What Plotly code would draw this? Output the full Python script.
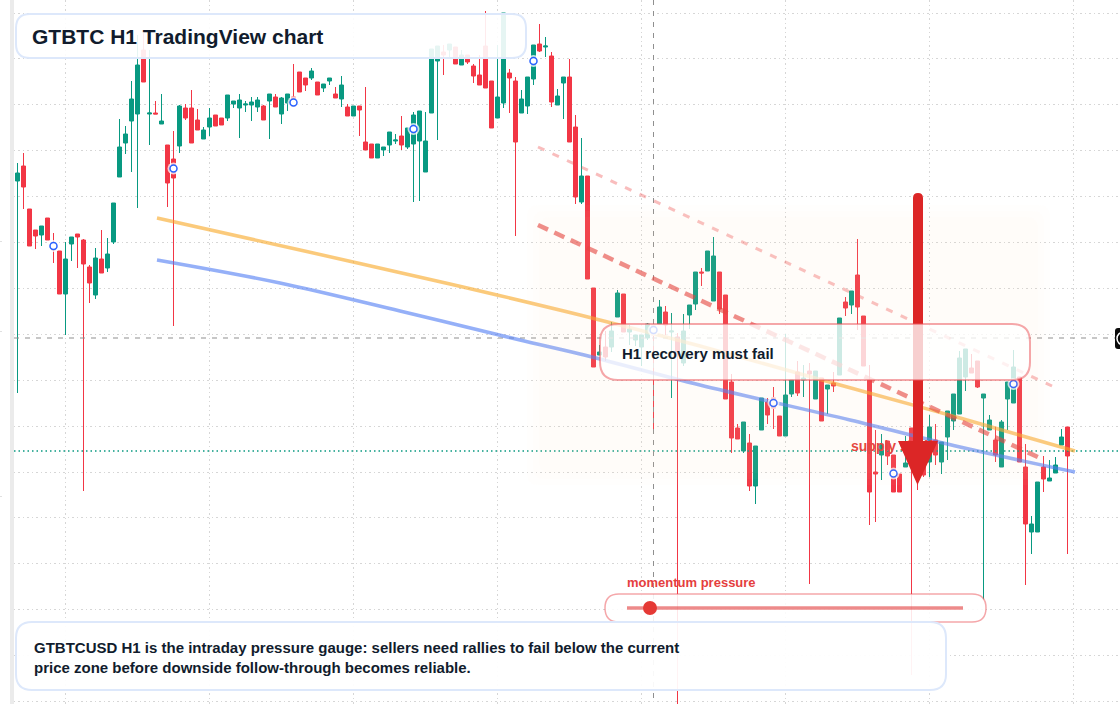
import plotly.graph_objects as go

W, H = 1120, 704

# candle readings, levels measured from the top of the chart
body_top = [
    173, 166, 209, 230, 226, 218, 243, 251, 259, 237,
    234, 240, 267, 258, 259, 254, 203, 147, 134, 99,
    65, 50, 113, 113, 121, 145, 159, 106, 108, 108,
    120, 130, 118, 115, 118, 95, 101, 100, 104, 102,
    100, 106, 94, 97, 98, 94, 97, 72, 78, 71,
    82, 84, 78, 94, 85, 107, 106, 106, 142, 144,
    144, 147, 132, 140, 136, 128, 115, 111, 141, 49,
    46, 52, 44, 47, 55, 55, 66, 75, 46, 81,
    97, 13, 73, 81, 99, 77, 45, 44, 46, 56,
    96, 77, 77, 127, 176, 176, 288, 352, 347, 331,
    293, 294, 329, 335, 335, 324, 325, 307, 312, 331,
    337, 331, 305, 272, 272, 251, 256, 272, 295, 382,
    428, 422, 443, 446, 398, 402, 398, 416, 395, 380,
    372, 378, 371, 371, 378, 385, 383, 318, 302, 291,
    275, 316, 380, 472, 444, 441, 455, 474, 463, 428,
    440, 445, 427, 440, 442, 411, 394, 358, 349, 368,
    361, 394, 420, 440, 422, 382, 367, 377, 467, 524,
    482, 467, 478, 465, 437, 427,
]
body_bottom = [
    181, 187, 246, 236, 235, 240, 250, 294, 294, 244,
    237, 264, 283, 295, 273, 268, 242, 177, 143, 121,
    114, 82, 114, 114, 124, 183, 178, 146, 118, 143,
    130, 139, 127, 126, 125, 118, 104, 108, 105, 105,
    107, 120, 101, 107, 114, 103, 106, 92, 85, 78,
    95, 88, 81, 98, 99, 116, 116, 110, 150, 158,
    158, 150, 145, 141, 145, 147, 144, 141, 172, 113,
    61, 55, 50, 64, 65, 62, 76, 85, 88, 128,
    118, 103, 78, 142, 113, 106, 79, 51, 47, 102,
    105, 83, 142, 197, 202, 279, 367, 355, 357, 347,
    317, 332, 332, 340, 347, 338, 335, 324, 325, 332,
    352, 363, 315, 304, 273, 271, 301, 309, 399, 438,
    439, 451, 486, 486, 430, 415, 408, 436, 436, 394,
    393, 380, 374, 399, 421, 389, 386, 375, 308, 305,
    307, 366, 492, 474, 455, 456, 492, 492, 467, 460,
    470, 475, 462, 455, 462, 437, 421, 414, 377, 373,
    387, 398, 430, 455, 467, 399, 403, 462, 524, 532,
    532, 479, 481, 473, 445, 456,
]
wick_top = [
    163, 153, 209, 230, 226, 218, 233, 251, 242, 237,
    234, 239, 265, 248, 230, 238, 203, 119, 126, 81,
    35, 33, 50, 101, 94, 145, 131, 105, 104, 90,
    109, 127, 108, 115, 118, 95, 101, 94, 101, 97,
    97, 105, 94, 94, 97, 94, 64, 72, 78, 68,
    82, 84, 78, 87, 76, 104, 106, 106, 87, 144,
    144, 147, 132, 134, 116, 128, 112, 111, 112, 49,
    46, 45, 44, 47, 50, 55, 64, 55, 11, 81,
    45, 13, 69, 77, 90, 77, 45, 24, 37, 52,
    89, 77, 59, 115, 138, 176, 288, 345, 331, 322,
    290, 294, 325, 335, 335, 323, 320, 300, 306, 313,
    333, 314, 305, 272, 268, 251, 237, 272, 295, 374,
    424, 422, 434, 446, 398, 398, 387, 416, 334, 380,
    361, 365, 363, 371, 378, 385, 372, 318, 297, 291,
    239, 316, 365, 430, 434, 441, 455, 474, 436, 428,
    440, 445, 415, 424, 442, 411, 394, 351, 349, 354,
    361, 394, 415, 427, 420, 382, 350, 377, 444, 516,
    482, 456, 460, 457, 429, 427,
]
wick_bottom = [
    393, 209, 246, 249, 246, 240, 263, 294, 335, 261,
    268, 491, 303, 299, 273, 272, 244, 177, 154, 172,
    208, 82, 145, 114, 124, 207, 326, 153, 120, 143,
    130, 139, 136, 126, 125, 121, 108, 138, 112, 121,
    112, 120, 139, 107, 124, 111, 106, 92, 91, 80,
    95, 92, 85, 98, 107, 116, 116, 136, 150, 158,
    158, 156, 153, 144, 150, 149, 202, 201, 172, 113,
    140, 75, 57, 64, 65, 64, 83, 85, 88, 128,
    118, 108, 113, 236, 113, 114, 85, 52, 57, 107,
    105, 119, 142, 204, 204, 279, 367, 355, 361, 352,
    317, 332, 345, 346, 366, 340, 429, 324, 335, 398,
    710, 366, 329, 310, 286, 271, 301, 314, 399, 453,
    439, 453, 491, 504, 430, 424, 429, 436, 436, 397,
    396, 397, 584, 399, 421, 414, 392, 375, 316, 314,
    330, 366, 525, 522, 480, 465, 492, 492, 467, 675,
    490, 477, 477, 465, 474, 460, 430, 414, 391, 373,
    388, 600, 430, 462, 467, 430, 403, 462, 585, 554,
    532, 492, 481, 473, 445, 554,
]
green_candles = {
    0, 4, 8, 9, 13, 15, 16, 17, 18, 19, 20, 22, 24, 27, 31, 32, 35, 36, 37, 38,
    39, 40, 42, 44, 45, 49, 51, 52, 54, 56, 60, 61, 62, 63, 65, 66, 67, 68, 69,
    70, 72, 74, 80, 81, 84, 85, 86, 88, 90, 91, 94, 97, 99, 100, 102, 103, 104,
    105, 107, 109, 111, 112, 113, 115, 116, 121, 123, 124, 128, 129, 131, 133,
    135, 137, 139, 144, 148, 152, 154, 155, 156, 157, 158, 161, 162, 164, 165,
    166, 169, 170, 172, 173, 174,
}

# overlay lines, as (pixel x, level) readings
orange_x = [157, 300, 450, 580, 700, 840, 960, 1075]
orange_y = [218, 250, 284, 315, 346, 385, 418, 451]
blue_x = [157, 280, 400, 520, 580, 700, 850, 960, 1075]
blue_y = [260, 283, 311, 340, 354, 385, 420, 447, 472]
strong_dash_x = [538, 1040]
strong_dash_y = [225, 458]
light_dash_x = [538, 1052]
light_dash_y = [147, 386]

ring_x = [53.5, 173.5, 293.5, 413.5, 533.5, 653.5, 773.5, 893.5, 1013.5]
ring_y = [246, 168.5, 102.5, 129, 61, 330, 403, 473.5, 384]

title_text = "GTBTC H1 TradingView chart"
note_text = ("GTBTCUSD H1 is the intraday pressure gauge: sellers need rallies to fail below the current"
             "<br>price zone before downside follow-through becomes reliable.")
callout_text = "H1 recovery must fail"
supply_text = "supply shelf"
gauge_text = "momentum pressure"

GREEN = "#089981"
RED = "#f23645"
FONT = "Liberation Sans"


def ix(px):
    return (px - 17.5) / 6


def price(level):
    return H - level


def round_rect(x0, y0, x1, y1, r):
    yt, yb = 1 - y0 / H, 1 - y1 / H
    rx, ry = r / W, r / H
    x0, x1 = x0 / W, x1 / W
    return (f"M {x0 + rx} {yt} L {x1 - rx} {yt} Q {x1} {yt} {x1} {yt - ry} "
            f"L {x1} {yb + ry} Q {x1} {yb} {x1 - rx} {yb} "
            f"L {x0 + rx} {yb} Q {x0} {yb} {x0} {yb + ry} "
            f"L {x0} {yt - ry} Q {x0} {yt} {x0 + rx} {yt} Z")


def card(x0, y0, x1, y1, r, fill, stroke, width):
    return dict(type="path", xref="paper", yref="paper", path=round_rect(x0, y0, x1, y1, r),
                fillcolor=fill, line=dict(color=stroke, width=width), layer="above")


def px_rect(x0, y0, x1, y1, fill):
    return dict(type="rect", xref="paper", yref="paper", x0=x0 / W, x1=x1 / W, y0=1 - y0 / H, y1=1 - y1 / H,
                fillcolor=fill, line=dict(width=0), layer="above")


def label(x, y, text, size, color):
    # annotations carry about 2px of padding
    return dict(xref="paper", yref="paper", x=(x - 2) / W, y=1 - y / H, text=text, showarrow=False,
                xanchor="left", yanchor="middle", align="left",
                font=dict(family=FONT, size=size, color=color, weight=700))


index = list(range(len(body_top)))
opens = [price(body_bottom[i]) if i in green_candles else price(body_top[i]) for i in index]
closes = [price(body_top[i]) if i in green_candles else price(body_bottom[i]) for i in index]
highs = [price(v) for v in wick_top]
lows = [price(v) for v in wick_bottom]

fig = go.Figure()

fig.add_trace(go.Scatter(x=[ix(14), ix(1120)], y=[price(451), price(451)], mode="lines",
                         line=dict(color=GREEN, width=1.5, dash="1.5px,3px")))

fig.add_trace(go.Candlestick(
    x=index, open=opens, high=highs, low=lows, close=closes, whiskerwidth=0,
    increasing=dict(line=dict(color=GREEN, width=1), fillcolor=GREEN),
    decreasing=dict(line=dict(color=RED, width=1), fillcolor=RED),
))

# crosshair
fig.add_trace(go.Scatter(x=[ix(14), ix(1115)], y=[price(338), price(338)], mode="lines",
                         line=dict(color="#8f8f8f", width=1, dash="5px,6px")))
fig.add_trace(go.Scatter(x=[ix(653.5), ix(653.5)], y=[price(0), price(704)], mode="lines",
                         line=dict(color="#8f8f8f", width=1, dash="5px,6px")))

for xs, ys, color, width, dash, alpha in [
    (orange_x, orange_y, "#f9a825", 3.5, None, 0.6),
    (blue_x, blue_y, "#4f7cf5", 3.5, None, 0.6),
    (light_dash_x, light_dash_y, "#ef4444", 3, "7px,9px", 0.35),
    (strong_dash_x, strong_dash_y, "#e53935", 4.5, "11px,7px", 0.6),
]:
    fig.add_trace(go.Scatter(x=[ix(v) for v in xs], y=[price(v) for v in ys], mode="lines", opacity=alpha,
                             line=dict(color=color, width=width, dash=dash, shape="spline")))

fig.add_trace(go.Scatter(x=[ix(v) for v in ring_x], y=[price(v) for v in ring_y], mode="markers",
                         marker=dict(size=12, color="rgba(255,255,255,0.75)")))
fig.add_trace(go.Scatter(x=[ix(v) for v in ring_x], y=[price(v) for v in ring_y], mode="markers",
                         marker=dict(size=7, color="white", line=dict(color="#2962ff", width=1.5))))

fig.add_trace(go.Scatter(x=[ix(851)], y=[price(447.5)], mode="text", text=[supply_text], textposition="middle right",
                         textfont=dict(family=FONT, size=14, color="#e53935", weight=700)))

arrow_path = (f"M {913 / W} {1 - 198 / H} Q {913 / W} {1 - 193 / H} {918 / W} {1 - 193 / H} "
              f"Q {923 / W} {1 - 193 / H} {923 / W} {1 - 198 / H} L {923 / W} {1 - 441 / H} "
              f"L {938 / W} {1 - 441 / H} L {917.5 / W} {1 - 485 / H} L {898 / W} {1 - 441 / H} "
              f"L {913 / W} {1 - 441 / H} Z")

shapes = [
    # soft zone, stacked for a faded edge
    card(527, 205, 1050, 485, 12, "rgba(250,225,195,0.03)", "rgba(0,0,0,0)", 0),
    card(533, 211, 1044, 479, 12, "rgba(250,225,195,0.03)", "rgba(0,0,0,0)", 0),
    card(539, 217, 1038, 473, 12, "rgba(250,225,195,0.03)", "rgba(0,0,0,0)", 0),
    dict(type="path", xref="paper", yref="paper", path=arrow_path, fillcolor="#dc2626", line=dict(width=0), layer="above"),
    card(600, 324, 1030, 380, 18, "rgba(255,255,255,0.78)", "rgba(235,80,85,0.5)", 2),
    card(605, 594, 986, 622, 14, "rgba(255,255,255,0.88)", "rgba(235,80,85,0.5)", 1.5),
    dict(type="line", xref="paper", yref="paper", x0=627 / W, x1=963 / W, y0=1 - 608 / H, y1=1 - 608 / H,
         line=dict(color="rgba(225,60,60,0.6)", width=3.5), layer="above"),
    dict(type="circle", xref="paper", yref="paper", x0=643 / W, x1=657 / W, y0=1 - 601 / H, y1=1 - 615 / H,
         fillcolor="#e53935", line=dict(width=0), layer="above"),
    card(16, 14, 526, 58, 14, "rgba(255,255,255,0.9)", "#dde8fb", 2),
    card(16, 622, 946, 690, 16, "rgba(255,255,255,0.94)", "#dde8fb", 2),
    px_rect(0, 0, 10, 704, "white"),
    px_rect(10, 0, 14, 704, "#ebebeb"),
    px_rect(0, 241, 2, 242, "#e0e0e0"),
    px_rect(0, 331, 2, 332, "#e0e0e0"),
    px_rect(0, 496, 2, 497, "#e0e0e0"),
    card(1115, 328, 1126, 349, 3, "#0b0b0b", "rgba(0,0,0,0)", 0),
    dict(type="circle", xref="paper", yref="paper", x0=1117 / W, x1=1130 / W, y0=1 - 332 / H, y1=1 - 345 / H,
         line=dict(color="white", width=1.5), layer="above"),
]

annotations = [
    label(32, 36, title_text, 21, "#111c2d"),
    label(34, 657.5, note_text, 15, "#111c2d"),
    label(622, 353, callout_text, 15, "#111c2d"),
    label(627, 582, gauge_text, 13, "#e53e3e"),
]

fig.update_layout(
    width=W, height=H, margin=dict(l=0, r=0, t=0, b=0),
    paper_bgcolor="white", plot_bgcolor="white", showlegend=False,
    boxgap=0, boxgroupgap=1 / 3,
    shapes=shapes, annotations=annotations,
    xaxis=dict(range=[ix(0), ix(W)], tick0=8, dtick=24, showgrid=True, gridcolor="#d6d6d6", griddash="1.5px,3px",
               gridwidth=1, zeroline=False, showticklabels=False, ticks="", rangeslider=dict(visible=False)),
    yaxis=dict(range=[0, H], tick0=691, dtick=45.9, showgrid=True, gridcolor="#d6d6d6", griddash="1.5px,3px",
               gridwidth=1, zeroline=False, showticklabels=False, ticks=""),
)

fig.write_html("out.html", config=dict(displayModeBar=False),
               post_script="document.body.style.margin='0';document.body.style.overflow='hidden';")
